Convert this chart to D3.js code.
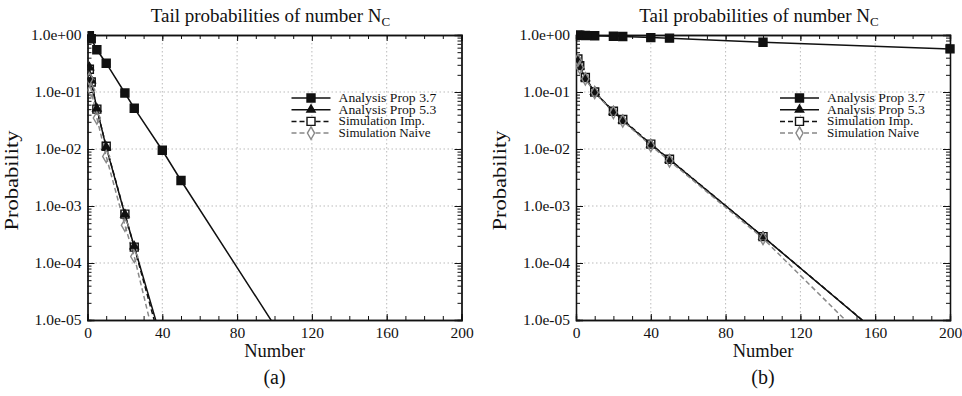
<!DOCTYPE html>
<html>
<head>
<meta charset="utf-8">
<script src="https://cdn.jsdelivr.net/npm/d3@7"></script>
<style>
  body { margin: 0; background: #fff; }
  svg { font-family: "Liberation Serif", "DejaVu Serif", serif; }
</style>
</head>
<body>
<svg width="962" height="396"></svg>
<script>
// x positions shared by every series
const numbers = [1, 2, 5, 10, 20, 25, 40, 50, 100, 200];

// panel (a)
const aProp37 = [0.97, 0.86, 0.55, 0.32, 0.096, 0.052, 0.0095, 0.0028, 8e-6, 1e-10];
const aProp53 = [0.27, 0.16, 0.051, 0.0108, 7.1e-4, 1.95e-4, 4e-6, 3e-7, 1e-12, 1e-20];
const aSimImp = [0.25, 0.15, 0.05, 0.0112, 7.2e-4, 1.9e-4, 3e-6, 2e-7, 1e-12, 1e-20];
const aSimNaive = [0.17, 0.108, 0.035, 0.0074, 4.6e-4, 1.3e-4, 1.2e-6, 1e-7, 1e-12, 1e-20];

// panel (b)
const bProp37 = [0.99, 0.99, 0.98, 0.97, 0.95, 0.94, 0.9, 0.88, 0.745, 0.57];
const bProp53 = [0.37, 0.28, 0.175, 0.1, 0.045, 0.032, 0.012, 0.0065, 2.9e-4, 5e-7];
const bSimImp = [0.38, 0.29, 0.18, 0.1, 0.046, 0.033, 0.0122, 0.0066, 2.9e-4, 5.1e-7];
const bSimNaive = [0.36, 0.27, 0.17, 0.098, 0.044, 0.031, 0.0115, 0.0062, 2.7e-4, 1.5e-7];

const xTicks = [0, 40, 80, 120, 160, 200];
const yTicks = [1, 1e-1, 1e-2, 1e-3, 1e-4, 1e-5];
const seriesNames = ["Analysis Prop 3.7", "Analysis Prop 5.3", "Simulation Imp.", "Simulation Naive"];
const panelLabels = ["(a)", "(b)"];

const svg = d3.select("svg");

const styles = [
  { stroke: "#111", dash: null, marker: "square", fill: "#111" },
  { stroke: "#111", dash: null, marker: "triangle", fill: "#111" },
  { stroke: "#111", dash: "5,3", marker: "square", fill: "none" },
  { stroke: "#888", dash: "5,3", marker: "diamond", fill: "none" }
];

const symbolFor = {
  square: d3.symbol().type(d3.symbolSquare).size(64),
  triangle: d3.symbol().type(d3.symbolTriangle).size(30),
  diamond: d3.symbol().type(d3.symbolDiamond).size(44)
};

function drawPanel(idx, left, series) {
  const top = 35, bottom = 320, right = left + 374;
  const x = d3.scaleLinear().domain([0, 200]).range([left, right]);
  const y = d3.scaleLog().domain([1e-5, 1]).range([bottom, top]);
  const g = svg.append("g");

  // grid
  g.selectAll("line.gx").data(xTicks.slice(1, -1)).enter().append("line")
    .attr("x1", d => x(d)).attr("x2", d => x(d)).attr("y1", top).attr("y2", bottom)
    .attr("stroke", "#bbb").attr("stroke-dasharray", "1.5,2.5").attr("stroke-width", 1);
  g.selectAll("line.gy").data(yTicks.slice(1, -1)).enter().append("line")
    .attr("y1", d => y(d)).attr("y2", d => y(d)).attr("x1", left).attr("x2", right)
    .attr("stroke", "#bbb").attr("stroke-dasharray", "1.5,2.5").attr("stroke-width", 1);

  // axes with inward ticks on all sides
  const xMinor = d3.range(0, 201, 10);
  const yMinor = [];
  for (let e = -5; e < 0; e++) for (let m = 2; m < 10; m++) yMinor.push(m * Math.pow(10, e));

  const axB = d3.axisBottom(x).tickValues(xTicks).tickSize(-6).tickPadding(7).tickFormat(d3.format("d"));
  const axT = d3.axisTop(x).tickValues(xMinor).tickSize(-4).tickFormat("");
  const axBm = d3.axisBottom(x).tickValues(xMinor).tickSize(-4).tickFormat("");
  const axL = d3.axisLeft(y).tickValues(yTicks).tickSize(-7).tickPadding(6).tickFormat(d => d3.format(".1e")(d).replace(/e([+-])(\d)$/, "e$10$2"));
  const axLm = d3.axisLeft(y).tickValues(yMinor).tickSize(-4).tickFormat("");
  const axR = d3.axisRight(y).tickValues(yTicks).tickSize(-7).tickFormat("");
  const axRm = d3.axisRight(y).tickValues(yMinor).tickSize(-4).tickFormat("");
  const axTM = d3.axisTop(x).tickValues(xTicks).tickSize(-6).tickFormat("");

  [[axB, `translate(0,${bottom})`], [axBm, `translate(0,${bottom})`],
   [axT, `translate(0,${top})`], [axTM, `translate(0,${top})`],
   [axL, `translate(${left},0)`], [axLm, `translate(${left},0)`],
   [axR, `translate(${right},0)`], [axRm, `translate(${right},0)`]].forEach(([ax, tr]) => {
    const a = g.append("g").attr("transform", tr).call(ax);
    a.select(".domain").attr("stroke", "#111").attr("stroke-width", 1.3);
    a.selectAll(".tick line").attr("stroke", "#111");
    a.selectAll("text").attr("font-size", 15.5).attr("fill", "#111")
      .attr("font-family", "Liberation Serif, serif");
  });

  // clip for data
  const cid = "clip" + idx;
  svg.append("clipPath").attr("id", cid).append("rect")
    .attr("x", left).attr("y", top - 6).attr("width", right - left + 6).attr("height", bottom - top + 6);
  const dg = g.append("g").attr("clip-path", `url(#${cid})`);

  const line = d3.line().x(d => x(d[0])).y(d => y(d[1]));
  series.forEach((vals, si) => {
    const st = styles[si];
    const pts = numbers.map((n, i) => [n, vals[i]]);
    dg.append("path").datum(pts).attr("d", line).attr("fill", "none")
      .attr("stroke", st.stroke).attr("stroke-width", 1.5)
      .attr("stroke-dasharray", st.dash);
  });
  // markers
  [0, 1, 2, 3].forEach(si => {
    const st = styles[si];
    const pts = numbers.map((n, i) => [n, series[si][i]]).filter(p => p[1] >= 1e-5);
    dg.selectAll(null).data(pts).enter().append("path")
      .attr("d", symbolFor[st.marker])
      .attr("transform", d => `translate(${x(d[0])},${y(d[1])})`)
      .attr("fill", st.fill).attr("stroke", st.stroke).attr("stroke-width", 1.4);
  });

  // legend
  const lx0 = left + 204, lx1 = left + 243, tx = left + 251;
  seriesNames.forEach((name, si) => {
    const st = styles[si];
    const ly = 98 + si * 11.7;
    g.append("line").attr("x1", lx0).attr("x2", lx1).attr("y1", ly).attr("y2", ly)
      .attr("stroke", st.stroke).attr("stroke-width", 1.5).attr("stroke-dasharray", st.dash);
    g.append("path").attr("d", symbolFor[st.marker])
      .attr("transform", `translate(${(lx0 + lx1) / 2},${ly})`)
      .attr("fill", st.fill === "none" ? "#fff" : st.fill).attr("stroke", st.stroke).attr("stroke-width", 1.4);
    g.append("text").attr("x", tx).attr("y", ly + 4).attr("font-size", 13)
      .attr("textLength", name.length * 5.75).attr("lengthAdjust", "spacingAndGlyphs")
      .attr("fill", "#111").text(name);
  });

  const cx = (left + right) / 2;
  const title = g.append("text").attr("x", cx - 4).attr("y", 22).attr("text-anchor", "middle")
    .attr("font-size", 19).attr("fill", "#111");
  title.append("tspan").text("Tail probabilities of number N");
  title.append("tspan").attr("font-size", 13).attr("dy", 4).text("C");

  g.append("text").attr("x", cx).attr("y", 357).attr("text-anchor", "middle")
    .attr("font-size", 18.5).attr("fill", "#111").text("Number");
  g.append("text").attr("x", cx).attr("y", 384).attr("text-anchor", "middle")
    .attr("font-size", 20).attr("fill", "#111").text(panelLabels[idx]);
  g.append("text").attr("transform", `translate(${left - 70},${(top + bottom) / 2 + 3}) rotate(-90)`)
    .attr("text-anchor", "middle").attr("font-size", 19)
    .attr("textLength", 100).attr("lengthAdjust", "spacingAndGlyphs")
    .attr("fill", "#111").text("Probability");
}

drawPanel(0, 87.5, [aProp37, aProp53, aSimImp, aSimNaive]);
drawPanel(1, 576, [bProp37, bProp53, bSimImp, bSimNaive]);
</script>
</body>
</html>
